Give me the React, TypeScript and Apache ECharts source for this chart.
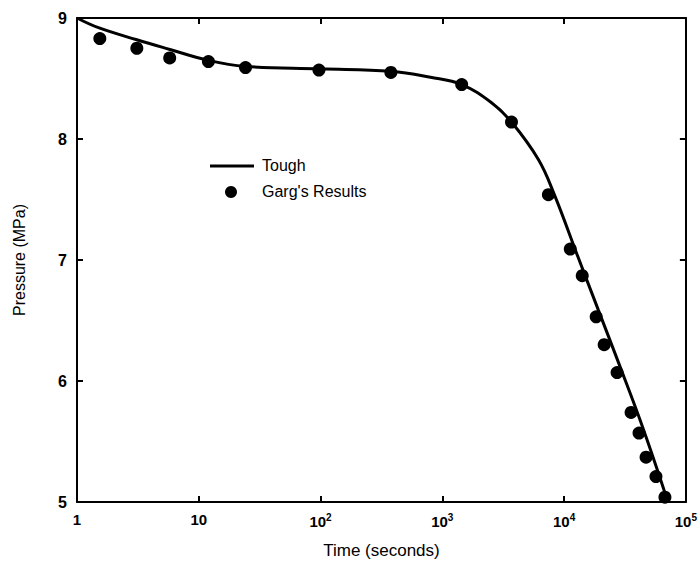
import React, { useEffect, useRef } from "react";
import * as echarts from "echarts";

// Tough simulation curve: [time (s), pressure (MPa)]
const toughTime = [1, 1.5, 3.1, 5.8, 12, 24, 100, 378, 800, 1442, 2536, 3698, 6150, 8318, 13060, 19050, 27780, 44460, 71260];
const toughPressure = [9.0, 8.92, 8.82, 8.74, 8.65, 8.6, 8.58, 8.56, 8.51, 8.45, 8.3, 8.14, 7.83, 7.54, 7.02, 6.59, 6.16, 5.61, 5.0];

// Garg's results: [time (s), pressure (MPa)]
const gargTime = [1.54, 3.1, 5.77, 12, 24.2, 97, 378, 1442, 3698, 7430, 11240, 14090, 18340, 21330, 27230, 35480, 41230, 47100, 56800, 67300];
const gargPressure = [8.83, 8.75, 8.67, 8.64, 8.59, 8.57, 8.55, 8.45, 8.14, 7.54, 7.09, 6.87, 6.53, 6.3, 6.07, 5.74, 5.57, 5.37, 5.21, 5.04];

const xTicks = [1, 10, 100, 1000, 10000, 100000];
const yTicks = [5, 6, 7, 8, 9];

const FONT = "Liberation Sans";

export default function App() {
  const ref = useRef<HTMLDivElement>(null);
  useEffect(() => {
    if (!ref.current) return;
    const chart = echarts.init(ref.current, null, { renderer: "svg" });
    const xLabel = (v: number) => {
      const e = Math.round(Math.log10(v));
      if (!xTicks.some((t) => Math.abs(Math.log10(t) - Math.log10(v)) < 1e-6)) return "";
      if (e === 0) return "{b|1}";
      if (e === 1) return "{b|10}";
      return "{b|10}{s|" + e + "}";
    };
    const axisLine = { show: true, lineStyle: { color: "#000", width: 2 } };
    const axisTick = { show: true, inside: true, length: 6, lineStyle: { color: "#000", width: 2 } };
    chart.setOption({
      animation: false,
      backgroundColor: "#fff",
      grid: { left: 77, right: 12, top: 18, bottom: 62, containLabel: false },
      xAxis: [
        {
          type: "log",
          logBase: 10,
          min: 1,
          max: 100000,
          position: "bottom",
          axisLine,
          axisTick,
          splitLine: { show: false },
          minorTick: { show: false },
          axisLabel: {
            margin: 10,
            color: "#000",
            formatter: xLabel,
            rich: {
              b: { fontFamily: FONT, fontSize: 15, fontWeight: "bold", color: "#000" },
              s: { fontFamily: FONT, fontSize: 10, fontWeight: "bold", color: "#000", padding: [0, 0, 8, 0] },
            },
          },
          name: "Time (seconds)",
          nameLocation: "middle",
          nameGap: 40,
          nameTextStyle: { fontFamily: FONT, fontSize: 17, color: "#000" },
        },
        {
          type: "log",
          logBase: 10,
          min: 1,
          max: 100000,
          position: "top",
          axisLine,
          axisTick,
          axisLabel: { show: false },
          splitLine: { show: false },
        },
      ],
      yAxis: [
        {
          type: "value",
          min: 5,
          max: 9,
          interval: 1,
          position: "left",
          axisLine,
          axisTick,
          splitLine: { show: false },
          axisLabel: {
            margin: 10,
            color: "#000",
            fontFamily: FONT,
            fontSize: 16,
            fontWeight: "bold",
            formatter: (v: number) => (yTicks.includes(v) ? String(v) : ""),
          },
          name: "Pressure (MPa)",
          nameLocation: "middle",
          nameGap: 50,
          nameRotate: 90,
          nameTextStyle: { fontFamily: FONT, fontSize: 16, color: "#000" },
        },
        {
          type: "value",
          min: 5,
          max: 9,
          interval: 1,
          position: "right",
          axisLine,
          axisTick,
          axisLabel: { show: false },
          splitLine: { show: false },
        },
      ],
      series: [
        {
          name: "Tough",
          type: "line",
          data: toughTime.map((t, i) => [t, toughPressure[i]]),
          smooth: 0.4,
          showSymbol: false,
          symbol: "none",
          lineStyle: { color: "#000", width: 3 },
          z: 2,
        },
        {
          name: "Garg's Results",
          type: "scatter",
          data: gargTime.map((t, i) => [t, gargPressure[i]]),
          symbol: "circle",
          symbolSize: 13,
          itemStyle: { color: "#000", opacity: 1 },
          z: 3,
        },
      ],
      graphic: [
        { type: "line", shape: { x1: 210, y1: 166, x2: 254, y2: 166 }, style: { stroke: "#000", lineWidth: 3 } },
        { type: "text", left: 262, top: 157, style: { text: "Tough", fontFamily: FONT, fontSize: 16, fill: "#000" } },
        { type: "circle", shape: { cx: 231, cy: 192, r: 6 }, style: { fill: "#000" } },
        { type: "text", left: 262, top: 183, style: { text: "Garg's Results", fontFamily: FONT, fontSize: 16, fill: "#000" } },
      ],
    });
    return () => chart.dispose();
  }, []);
  return <div ref={ref} style={{ position: "fixed", left: 0, top: 0, width: 700, height: 564, background: "#fff" }} />;
}
